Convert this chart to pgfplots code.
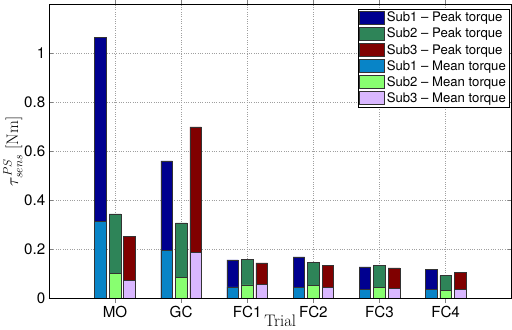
\documentclass[border=0pt]{standalone}
\usepackage{fontspec}
\usepackage{pgfplots}
\pgfplotsset{compat=1.18}
\newfontfamily\hv{TeX Gyre Heros}
\definecolor{pA}{RGB}{0,0,143}
\definecolor{pB}{RGB}{46,132,88}
\definecolor{pC}{RGB}{128,0,0}
\definecolor{mA}{RGB}{8,132,199}
\definecolor{mB}{RGB}{136,255,112}
\definecolor{mC}{RGB}{217,183,255}
\begin{document}
\begin{tikzpicture}
\begin{axis}[
  scale only axis,
  width=456bp, height=290bp,
  xmin=0, xmax=7, ymin=0, ymax=1.2,
  xtick={1,2,3,4,5,6},
  xticklabels={MO,GC,FC1,FC2,FC3,FC4},
  ytick={0,0.2,0.4,0.6,0.8,1},
  yticklabels={0,0.2,0.4,0.6,0.8,1},
  tick label style={font=\fontsize{15}{17}\hv},
  tick align=inside,
  major tick length=4bp,
  grid=major,
  grid style={dash pattern=on 0.7pt off 1.6pt, gray!75, line width=0.5pt},
  axis line style={line width=0.6pt},
  ybar, bar width=0.175,
  xlabel={Trial},
  ylabel={$\tau_{sens}^{PS}$ [Nm]},
  label style={font=\fontsize{16.5}{18}\selectfont},
  xlabel style={yshift=10bp},
  ylabel style={yshift=-5bp},
  legend style={at={(rel axis cs:1,1)}, anchor=north east, xshift=-2.5bp, yshift=-4.5bp,
    font=\fontsize{13}{15}\hv, draw=black, line width=0.6pt, inner sep=1pt, row sep=0.7pt,
    cells={anchor=west}},
  legend image code/.code={\draw[#1, line width=0.4pt] (0bp,-6bp) rectangle (25bp,6.5bp);},
  every axis plot/.append style={draw=black!80, line width=0.5pt},
]
\addplot[fill=pA, bar shift=-0.22] coordinates {(1,1.064) (2,0.561) (3,0.158) (4,0.170) (5,0.129) (6,0.118)};
\addplot[fill=pB, bar shift=0] coordinates {(1,0.345) (2,0.308) (3,0.160) (4,0.146) (5,0.135) (6,0.093)};
\addplot[fill=pC, bar shift=0.22] coordinates {(1,0.254) (2,0.700) (3,0.145) (4,0.136) (5,0.125) (6,0.107)};
\addplot[fill=mA, bar shift=-0.22] coordinates {(1,0.315) (2,0.196) (3,0.047) (4,0.045) (5,0.038) (6,0.036)};
\addplot[fill=mB, bar shift=0] coordinates {(1,0.104) (2,0.085) (3,0.056) (4,0.053) (5,0.045) (6,0.033)};
\addplot[fill=mC, bar shift=0.22] coordinates {(1,0.074) (2,0.189) (3,0.058) (4,0.046) (5,0.042) (6,0.038)};
\legend{Sub1 – Peak torque, Sub2 – Peak torque, Sub3 – Peak torque, Sub1 – Mean torque, Sub2 – Mean torque, Sub3 – Mean torque}
\draw[line width=1.3pt] (rel axis cs:0,0) -- (rel axis cs:1,0);
\end{axis}
\end{tikzpicture}
\end{document}
